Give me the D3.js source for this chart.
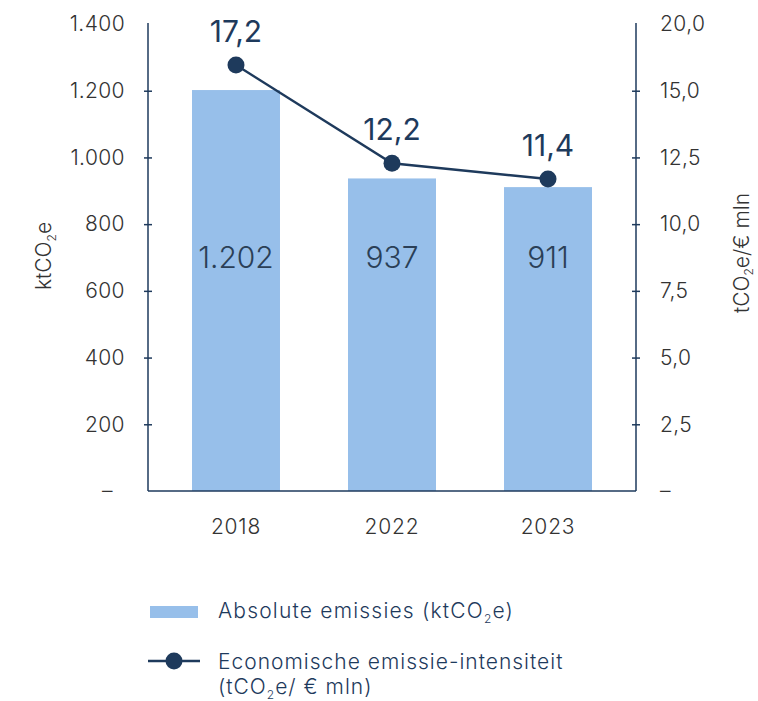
<!DOCTYPE html>
<html>
<head>
<meta charset="utf-8">
<script src="https://cdn.jsdelivr.net/npm/d3@7"></script>
<style>
  body { margin: 0; background: #fff; }
  text { font-family: Inter, "Open Sans", sans-serif; }
</style>
</head>
<body>
<div id="chart"></div>
<script>
// data
const years = ["2018", "2022", "2023"];
const absolute = [1202, 937, 911];
const intensity = [17.2, 12.2, 11.4];
const absLabels = ["1.202", "937", "911"];
const intLabels = ["17,2", "12,2", "11,4"];
const leftTicks = [0, 200, 400, 600, 800, 1000, 1200, 1400];
const leftTickLabels = ["–", "200", "400", "600", "800", "1.000", "1.200", "1.400"];
const rightTicks = [0, 2.5, 5, 7.5, 10, 12.5, 15, 17.5];
const rightTickLabels = ["–", "2,5", "5,0", "7,5", "10,0", "12,5", "15,0", "20,0"];

const W = 758, H = 701;
const navy = "#1e3a5c";
const barColor = "#97bfea";
const gray = "#333333";

const svg = d3.select("#chart").append("svg")
  .attr("width", W).attr("height", H);

// scales
const x = d3.scaleBand().domain(years).range([148, 636])
  .paddingInner(0.436).paddingOuter(0.282);
const yLeft = d3.scaleLinear().domain([0, 1400]).range([491, 24]);
const yRight = d3.scaleLinear().domain([0, 17.5]).range([491, 24]);
// the line in the original is not drawn on the right axis scale
const yLine = d3.scaleLinear().domain([0, 20]).range([403, 10]);

// bars
svg.append("g").selectAll("rect")
  .data(absolute)
  .join("rect")
  .attr("x", (d, i) => x(years[i]))
  .attr("y", d => yLeft(d))
  .attr("width", x.bandwidth())
  .attr("height", d => yLeft(0) - yLeft(d))
  .attr("fill", barColor);

// bar labels
svg.append("g").selectAll("text")
  .data(absLabels)
  .join("text")
  .attr("x", (d, i) => x(years[i]) + x.bandwidth() / 2)
  .attr("y", yLeft(700))
  .attr("dy", "0.35em")
  .attr("text-anchor", "middle")
  .attr("font-size", 30)
  .attr("font-weight", 300)
  .attr("fill", "#2b3f57")
  .text(d => d);

// left axis
const leftAxis = svg.append("g")
  .attr("transform", "translate(148,0)")
  .call(d3.axisLeft(yLeft).tickValues(leftTicks)
    .tickFormat((d, i) => leftTickLabels[i]).tickSize(4).tickPadding(19));
leftAxis.select(".domain").attr("stroke", navy).attr("stroke-width", 1.5)
  .attr("d", "M0,491V23");
leftAxis.selectAll(".tick line").attr("stroke", navy).attr("stroke-width", 1.5)
  .attr("x2", -4).attr("x1", 4)
  .attr("display", (d, i) => (i === 0 || i === leftTicks.length - 1) ? "none" : null);
leftAxis.selectAll(".tick text").attr("font-size", 21).attr("fill", gray)
  .attr("font-family", "Inter, sans-serif").attr("font-weight", 300)
  .attr("letter-spacing", 0.4)
  .attr("dx", (d, i) => i === 0 ? -12 : 0);

// right axis
const rightAxis = svg.append("g")
  .attr("transform", "translate(636,0)")
  .call(d3.axisRight(yRight).tickValues(rightTicks)
    .tickFormat((d, i) => rightTickLabels[i]).tickSize(4).tickPadding(20));
rightAxis.select(".domain").attr("stroke", navy).attr("stroke-width", 1.5)
  .attr("d", "M0,491V23");
rightAxis.selectAll(".tick line").attr("stroke", navy).attr("stroke-width", 1.5)
  .attr("x1", -4).attr("x2", 4)
  .attr("display", (d, i) => (i === 0 || i === rightTicks.length - 1) ? "none" : null);
rightAxis.selectAll(".tick text").attr("font-size", 21).attr("fill", gray)
  .attr("font-family", "Inter, sans-serif").attr("font-weight", 300)
  .attr("letter-spacing", 0.4);

// bottom axis
const bottomAxis = svg.append("g")
  .attr("transform", "translate(0,491)")
  .call(d3.axisBottom(x).tickSize(0).tickPadding(28));
bottomAxis.select(".domain").attr("stroke", navy).attr("stroke-width", 1.5)
  .attr("d", "M148,0H636");
bottomAxis.selectAll(".tick text").attr("font-size", 21).attr("fill", gray)
  .attr("font-family", "Inter, sans-serif").attr("font-weight", 300)
  .attr("letter-spacing", 0.8);

// line
const line = d3.line()
  .x((d, i) => x(years[i]) + x.bandwidth() / 2)
  .y(d => yLine(d));

svg.append("path")
  .datum(intensity)
  .attr("d", line)
  .attr("fill", "none")
  .attr("stroke", navy)
  .attr("stroke-width", 2.5);

svg.append("g").selectAll("circle")
  .data(intensity)
  .join("circle")
  .attr("cx", (d, i) => x(years[i]) + x.bandwidth() / 2)
  .attr("cy", d => yLine(d))
  .attr("r", 8.5)
  .attr("fill", navy);

svg.append("g").selectAll("text")
  .data(intensity)
  .join("text")
  .attr("x", (d, i) => x(years[i]) + x.bandwidth() / 2)
  .attr("y", d => yLine(d) - 23)
  .attr("text-anchor", "middle")
  .attr("font-size", 30)
  .attr("font-weight", 400)
  .attr("fill", navy)
  .text((d, i) => intLabels[i]);

// axis titles
const leftTitle = svg.append("text")
  .attr("transform", "translate(51,256) rotate(-90)")
  .attr("text-anchor", "middle")
  .attr("font-size", 21)
  .attr("font-weight", 300)
  .attr("fill", gray);
leftTitle.append("tspan").text("ktCO");
leftTitle.append("tspan").attr("font-size", 12).attr("dy", 5).text("2");
leftTitle.append("tspan").attr("dy", -5).text("e");

const rightTitle = svg.append("text")
  .attr("transform", "translate(749,253) rotate(-90)")
  .attr("text-anchor", "middle")
  .attr("font-size", 21)
  .attr("font-weight", 300)
  .attr("fill", gray);
rightTitle.append("tspan").text("tCO");
rightTitle.append("tspan").attr("font-size", 12).attr("dy", 4).text("2");
rightTitle.append("tspan").attr("dy", -4).text("e/€ mln");

// legend
const legend = svg.append("g");
legend.append("rect")
  .attr("x", 150).attr("y", 606).attr("width", 48).attr("height", 12)
  .attr("fill", barColor);
const l1 = legend.append("text")
  .attr("x", 218).attr("y", 618)
  .attr("font-size", 21).attr("font-weight", 300)
  .attr("letter-spacing", 1.2).attr("fill", navy);
l1.append("tspan").text("Absolute emissies (ktCO");
l1.append("tspan").attr("font-size", 12).attr("dy", 5).text("2");
l1.append("tspan").attr("dy", -5).text("e)");

legend.append("line")
  .attr("x1", 148).attr("x2", 200).attr("y1", 661).attr("y2", 661)
  .attr("stroke", navy).attr("stroke-width", 2.5);
legend.append("circle")
  .attr("cx", 174).attr("cy", 661).attr("r", 8.5).attr("fill", navy);
legend.append("text")
  .attr("x", 218).attr("y", 669)
  .attr("font-size", 21).attr("font-weight", 300)
  .attr("letter-spacing", 1.0).attr("fill", navy)
  .text("Economische emissie-intensiteit");
const l3 = legend.append("text")
  .attr("x", 218).attr("y", 694)
  .attr("font-size", 21).attr("font-weight", 300)
  .attr("letter-spacing", 1.0).attr("fill", navy);
l3.append("tspan").text("(tCO");
l3.append("tspan").attr("font-size", 12).attr("dy", 5).text("2");
l3.append("tspan").attr("dy", -5).text("e/ € mln)");
</script>
</body>
</html>
